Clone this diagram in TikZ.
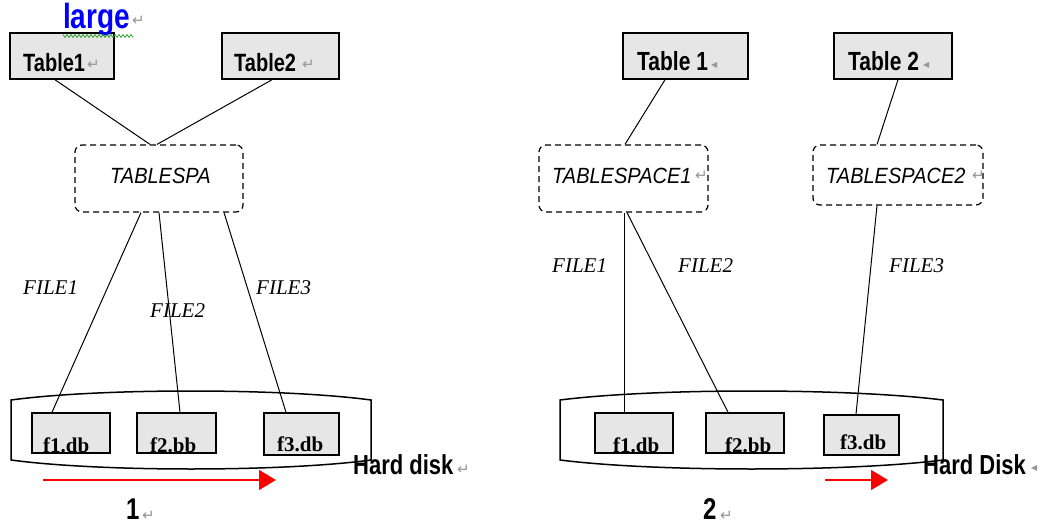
\documentclass[tikz,border=0pt]{standalone}
\usepackage{graphicx}
\usepackage{fontspec}
\setmainfont{Liberation Serif}
\setsansfont{Liberation Sans}
\newfontfamily\symfont{DejaVu Sans}
\usetikzlibrary{arrows.meta}
\definecolor{boxgray}{RGB}{230,230,230}
\definecolor{markgray}{RGB}{150,150,150}
\definecolor{wordblue}{RGB}{0,0,255}
\definecolor{spellgreen}{RGB}{40,160,40}

\newcommand\tabtext[2]{\sffamily\bfseries\fontsize{#1}{#1}\selectfont\scalebox{1}[1.25]{#2}}
\newcommand\spacetext[1]{\sffamily\itshape\fontsize{20}{20}\selectfont\scalebox{1}[1.1]{#1}}
\newcommand\filetext[1]{\rmfamily\itshape\fontsize{21}{21}\selectfont #1}
\newcommand\dbtext[1]{\rmfamily\bfseries\fontsize{21}{21}\selectfont #1}

\tikzset{
  tablebox/.style={draw, line width=1.5pt, fill=boxgray, inner sep=0pt},
  filebox/.style={draw, line width=1.5pt, fill=boxgray, inner sep=0pt},
  spacebox/.style={draw, dash pattern=on 6pt off 4pt, rounded corners=7pt, line width=1.2pt, inner sep=0pt},
  link/.style={line width=1pt},
  lbl/.style={anchor=base west, inner sep=0pt},
  pmark/.style={anchor=base west, inner sep=0pt, text=markgray, font=\symfont\fontsize{15}{15}\selectfont},
  smallmark/.style={anchor=base west, inner sep=0pt, text=markgray, font=\symfont\fontsize{8}{8}\selectfont},
  redarrow/.style={red, line width=1.5pt, -{Triangle[length=17pt,width=20pt]}},
  disk/.style={line width=1.5pt},
  squiggle/.style={spellgreen, line width=0.8pt}
}

\begin{document}
\begin{tikzpicture}[x=1pt,y=-1pt]
\useasboundingbox (0,0) rectangle (1042,524);

% ---------------- layout 1: one tablespace, three files ----------------
\node[tablebox, minimum width=104pt, minimum height=46pt] (t1) at (62,56) {};
\node[tablebox, minimum width=117pt, minimum height=46pt] (t2) at (280.5,56) {};
\node[lbl] at (23,72) {\tabtext{20}{Table1}};
\node[pmark] at (87,70) {↵};
\node[lbl] at (234,72) {\tabtext{20}{Table2}};
\node[pmark] at (302,70) {↵};

% word above the first table, with its wavy spelling underline on top of the box
\node[lbl, text=wordblue] (large) at (63,29) {\tabtext{28}{large}};
\draw[squiggle] plot[domain=63:133, samples=71, smooth] (\x, {36+1.4*sin(\x*90)});
\node[pmark] at (132,26) {↵};

\node[spacebox, minimum width=168pt, minimum height=67pt] (ts) at (159,178.5) {};
\node[lbl] at (110,184) {\spacetext{TABLESPA}};

\node[filebox, minimum width=78pt, minimum height=40pt] (f1) at (71,433) {};
\node[filebox, minimum width=79pt, minimum height=40pt] (f2) at (176.5,433) {};
\node[filebox, minimum width=75pt, minimum height=42pt] (f3) at (301.5,434) {};
\node[lbl] at (43,452) {\dbtext{f1.db}};
\node[lbl] at (150,452) {\dbtext{f2.bb}};
\node[lbl] at (277,451) {\dbtext{f3.db}};

\draw[link] ([xshift=-7pt]t1.south) -- ([xshift=-9pt]ts.north);
\draw[link] ([xshift=-8.5pt]t2.south) -- ([xshift=-2pt]ts.north);
\draw[link] ([xshift=-18pt]ts.south) -- ([xshift=-19pt]f1.north);
\draw[link] (ts.south) -- ([xshift=3.5pt]f2.north);
\draw[link] ([xshift=65pt]ts.south) -- ([xshift=-15.5pt]f3.north);

\node[lbl] at (23,294) {\filetext{FILE1}};
\node[lbl] at (150,317) {\filetext{FILE2}};
\node[lbl] at (256,294) {\filetext{FILE3}};

\draw[disk] (11,460) -- (11,400) .. controls (100,388) and (282,388) .. (371,400)
  -- (371,460) .. controls (282,472) and (100,472) .. (11,460) -- cycle;
\node[lbl] at (353,474) {\tabtext{22}{Hard disk}};
\node[pmark] at (457,474) {↵};

\coordinate (r1s) at (43,480);
\coordinate (r1e) at (276,480);
\draw[redarrow] (r1s) -- (r1e);

\node[lbl] at (126,519) {\tabtext{24}{1}};
\node[pmark] at (142,520) {↵};

% ---------------- layout 2: two tablespaces ----------------
\node[tablebox, minimum width=125pt, minimum height=46pt] (T1) at (685.5,56) {};
\node[tablebox, minimum width=118pt, minimum height=46pt] (T2) at (893,56) {};
\node[lbl] at (637,71) {\tabtext{21}{Table 1}};
\node[smallmark] at (711,68) {◀};
\node[lbl] at (848,71) {\tabtext{21}{Table 2}};
\node[smallmark] at (923,68) {◀};

\node[spacebox, minimum width=169pt, minimum height=67pt] (TS1) at (623.5,178.5) {};
\node[spacebox, minimum width=170pt, minimum height=60pt] (TS2) at (898,175) {};
\node[lbl] at (552,183) {\spacetext{TABLESPACE1}};
\node[pmark] at (695,181) {↵};
\node[lbl] at (826,183) {\spacetext{TABLESPACE2}};
\node[pmark] at (972,181) {↵};

\node[filebox, minimum width=78pt, minimum height=40pt] (F1) at (634,433) {};
\node[filebox, minimum width=78pt, minimum height=40pt] (F2) at (745,433) {};
\node[filebox, minimum width=75pt, minimum height=40pt] (F3) at (861.5,435) {};
\node[lbl] at (613,452) {\dbtext{f1.db}};
\node[lbl] at (725,452) {\dbtext{f2.bb}};
\node[lbl] at (840,449) {\dbtext{f3.db}};

\draw[link] ([xshift=-20.5pt]T1.south) -- ([xshift=1.5pt]TS1.north);
\draw[link] ([xshift=5pt]T2.south) -- ([xshift=-21pt]TS2.north);
\draw[link] ([xshift=0.5pt]TS1.south) -- ([xshift=-10pt]F1.north);
\draw[link] ([xshift=3.5pt]TS1.south) -- ([xshift=-17pt]F2.north);
\draw[link] ([xshift=-21pt]TS2.south) -- ([xshift=-5.5pt]F3.north);

\node[lbl] at (552,272) {\filetext{FILE1}};
\node[lbl] at (678,272) {\filetext{FILE2}};
\node[lbl] at (889,272) {\filetext{FILE3}};

\draw[disk] (560,460) -- (560,400) .. controls (655,388) and (848,388) .. (943,400)
  -- (943,460) .. controls (848,472) and (655,472) .. (560,460) -- cycle;
\node[lbl] at (923,474) {\tabtext{22}{Hard Disk}};
\node[smallmark] at (1031,470) {◀};

\coordinate (r2s) at (825,480);
\coordinate (r2e) at (888,480);
\draw[redarrow] (r2s) -- (r2e);

\node[lbl] at (703,519) {\tabtext{24}{2}};
\node[pmark] at (720,520) {↵};
\end{tikzpicture}
\end{document}
